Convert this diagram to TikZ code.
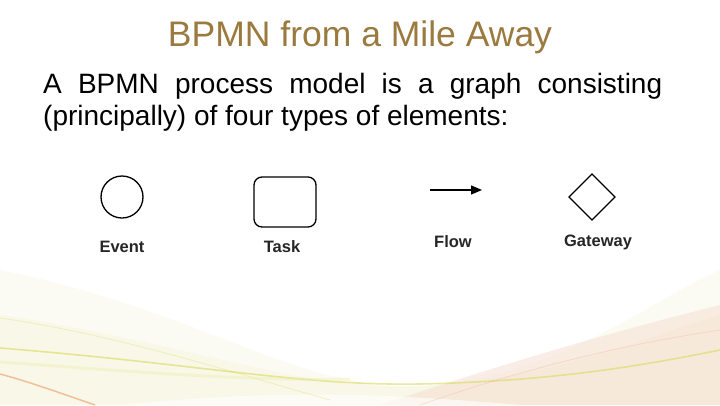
\documentclass[tikz,border=0pt]{standalone}
\usepackage{fontspec}
\setmainfont{Liberation Sans}
\usetikzlibrary{arrows.meta}
\definecolor{titlebrown}{HTML}{9A7A3E}
\definecolor{cream}{HTML}{F6F0D2}
\definecolor{wavegreen}{HTML}{D6DB5E}
\definecolor{peach}{HTML}{F5D9CB}
\definecolor{streak}{HTML}{E9894A}
\tikzset{
  shapeline/.style={draw=black, line width=1.3pt},
  elabel/.style={font=\fontsize{16.5}{18}\selectfont\bfseries, text=black!85, inner sep=0pt, anchor=center},
  bodytext/.style={font=\fontsize{28}{32}\selectfont, inner sep=0pt, anchor=base west}
}
\begin{document}
\begin{tikzpicture}[x=1pt, y=-1pt]
\useasboundingbox (0,0) rectangle (720,405);
\fill[white] (0,0) rectangle (720,405);
% background waves
\fill[cream, opacity=0.25] (0,270) .. controls (200,310) and (300,392) .. (420,386) .. controls (560,378) and (650,300) .. (720,270) -- (720,405) -- (0,405) -- cycle;
\fill[cream, opacity=0.35] (0,315) .. controls (200,345) and (300,392) .. (420,386) .. controls (560,378) and (650,335) .. (720,315) -- (720,405) -- (0,405) -- cycle;
\fill[peach, opacity=0.45] (380,405) .. controls (500,365) and (600,335) .. (720,305) -- (720,405) -- cycle;
\fill[white, opacity=0.6] (120,405) .. controls (250,392) and (350,390) .. (520,405) -- cycle;
\draw[wavegreen!60!white, line width=0.8pt, opacity=0.6] (0,318) .. controls (120,335) and (240,375) .. (330,400);
\draw[wavegreen, line width=1.6pt, opacity=0.6] (0,348) .. controls (200,364) and (300,386) .. (420,384) .. controls (560,381) and (650,364) .. (720,350);
\draw[wavegreen!50!white, line width=3pt, opacity=0.4] (0,362) .. controls (150,373) and (250,381) .. (350,379);
\draw[streak, line width=1.5pt, opacity=0.5] (0,374) .. controls (30,382) and (60,393) .. (95,405);
\draw[peach!80!red, line width=0.8pt, opacity=0.35] (420,405) .. controls (520,370) and (620,345) .. (720,330);
% title
\node[font=\fontsize{35.5}{40}\selectfont, text=titlebrown, inner sep=0pt, anchor=base] (title) at (360,46) {BPMN from a Mile Away};
% body
\node[bodytext] (line1) at (43,93) {\makebox[619pt][s]{A BPMN process model is a graph consisting}};
\node[bodytext] (line2) at (43,125) {(principally) of four types of elements:};
% event
\node[shapeline, circle, minimum size=42pt, inner sep=0pt] (event) at (122,197) {};
\node[elabel] (eventlbl) at (122,247) {Event};
% task
\node[shapeline, rectangle, rounded corners=8pt, minimum width=62pt, minimum height=50pt, inner sep=0pt] (task) at (285,202) {};
\node[elabel] (tasklbl) at (282,247) {Task};
% flow
\coordinate (flowA) at (430,190);
\coordinate (flowB) at (482,190);
\draw[line width=1.3pt, -{Triangle[length=11pt, width=9pt]}] (flowA) -- (flowB);
\node[elabel] (flowlbl) at (453,242) {Flow};
% gateway
\coordinate (gw) at (592,197);
\draw[shapeline, line join=miter] ([xshift=-23pt]gw) -- ([yshift=-23pt]gw) -- ([xshift=23pt]gw) -- ([yshift=23pt]gw) -- cycle;
\node[elabel] (gwlbl) at (598,242) {Gateway};
\end{tikzpicture}
\end{document}
